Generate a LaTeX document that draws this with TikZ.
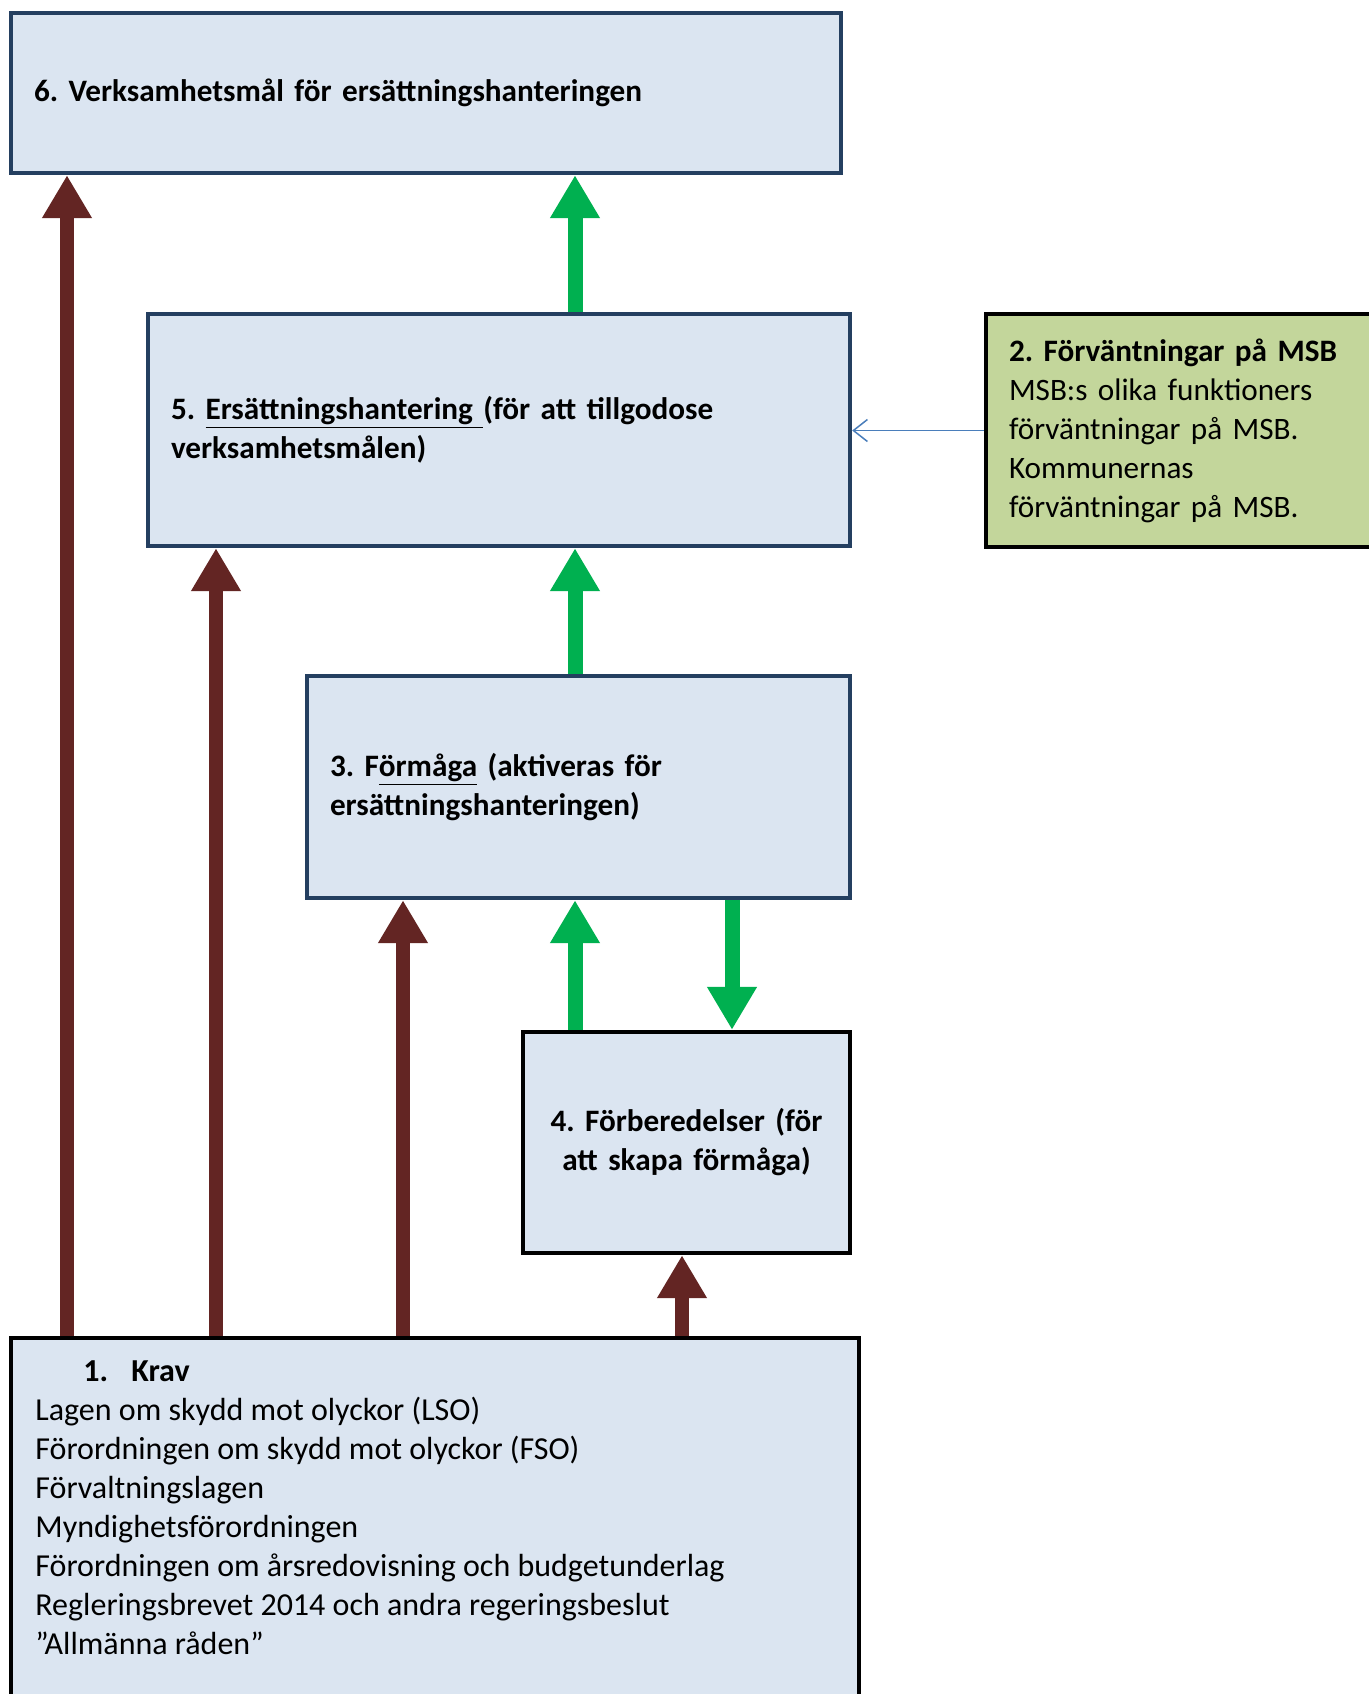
\documentclass[tikz,border=0pt]{standalone}
\usepackage{fontspec}
\setmainfont{Carlito}
\usetikzlibrary{arrows.meta}
\definecolor{boxfill}{HTML}{DBE5F1}
\definecolor{navy}{HTML}{243F60}
\definecolor{greenfill}{HTML}{C3D69B}
\definecolor{arrbrown}{HTML}{632523}
\definecolor{arrgreen}{HTML}{00B050}
\definecolor{arrblue}{HTML}{4A7EBB}
\tikzset{
  txt/.style={font=\fontsize{15.6pt}{19.5pt}\selectfont\frenchspacing},
  bigtxt/.style={font=\fontsize{16pt}{19.5pt}\selectfont\frenchspacing},
  box/.style={txt, rectangle, fill=boxfill, line width=2.2pt, inner xsep=11.5pt, inner ysep=0pt, align=left},
  navybox/.style={box, draw=navy},
  blackbox/.style={box, draw=black},
  brownarrow/.style={draw=arrbrown, line width=7pt, -{Triangle[width=23.5pt,length=21.5pt]}},
  greenarrow/.style={draw=arrgreen, line width=7.5pt, -{Triangle[width=23.5pt,length=21.5pt]}},
  bluearrow/.style={draw=arrblue, line width=0.75pt, -{Straight Barb[length=7pt,width=11pt]}}
}
\begin{document}
\begin{tikzpicture}[x=0.5pt,y=-0.5pt]
\clip (0,0) rectangle (1369,1694);
\fill[white] (0,0) rectangle (1369,1694);

% Box 6
\node[navybox, minimum width=415pt, minimum height=80pt, text width=392pt] (b6) at (426,93)
  {\bfseries 6. Verksamhetsmål för ersättningshanteringen};
% Box 5
\node[navybox, minimum width=351pt, minimum height=116pt, text width=328pt] (b5) at (499,430)
  {\bfseries 5. \underline{Ersättningshantering\ }(för att tillgodose\\ \bfseries verksamhetsmålen)};
% Box 2
\node[blackbox, fill=greenfill, minimum width=202pt, minimum height=116.5pt, text width=179pt] (b2) at (1188,430.5)
  {\textbf{2. Förväntningar på MSB}\\MSB:s olika funktioners\\förväntningar på MSB.\\Kommunernas\\förväntningar på MSB.};
% Box 3
\node[navybox, minimum width=271.5pt, minimum height=111pt, text width=248.5pt] (b3) at (578.5,787)
  {\bfseries 3. F\underline{örmåga} (aktiveras för\\ \bfseries ersättningshanteringen)};
% Box 4
\node[blackbox, align=center, minimum width=163.5pt, minimum height=110.5pt, text width=140.5pt] (b4) at (686.5,1142.5)
  {\bfseries 4. Förberedelser (för\\ \bfseries att skapa förmåga)};
% Box 1
\node[blackbox, minimum width=424pt, minimum height=186pt] (b1) at (435,1524) {};
\node[bigtxt, anchor=north west, inner sep=0pt, align=left] (b1t) at (35,1360)
  {\hspace*{24pt}\makebox[24pt][l]{\bfseries 1.}\textbf{Krav}\\
   Lagen om skydd mot olyckor (LSO)\\
   Förordningen om skydd mot olyckor (FSO)\\
   Förvaltningslagen\\
   Myndighetsförordningen\\
   Förordningen om årsredovisning och budgetunderlag\\
   Regleringsbrevet 2014 och andra regeringsbeslut\\
   ”Allmänna råden”};

% Brown arrows from box 1
\draw[brownarrow] (b1.north -| 67,0) -- (b6.south -| 67,0);
\draw[brownarrow] (b1.north -| 216,0) -- (b5.south -| 216,0);
\draw[brownarrow] (b1.north -| 403,0) -- (b3.south -| 403,0);
\draw[brownarrow] (b1.north -| 682,0) -- (b4.south -| 682,0);

% Green arrows
\draw[greenarrow] (b5.north -| 575,0) -- (b6.south -| 575,0);
\draw[greenarrow] (b3.north -| 575,0) -- (b5.south -| 575,0);
\draw[greenarrow] (b4.north -| 575,0) -- (b3.south -| 575,0);
\draw[greenarrow] (b3.south -| 732,0) -- (b4.north -| 732,0);

% Blue arrow
\draw[bluearrow] (b2.west) -- (b5.east |- b2.west);
\end{tikzpicture}
\end{document}
